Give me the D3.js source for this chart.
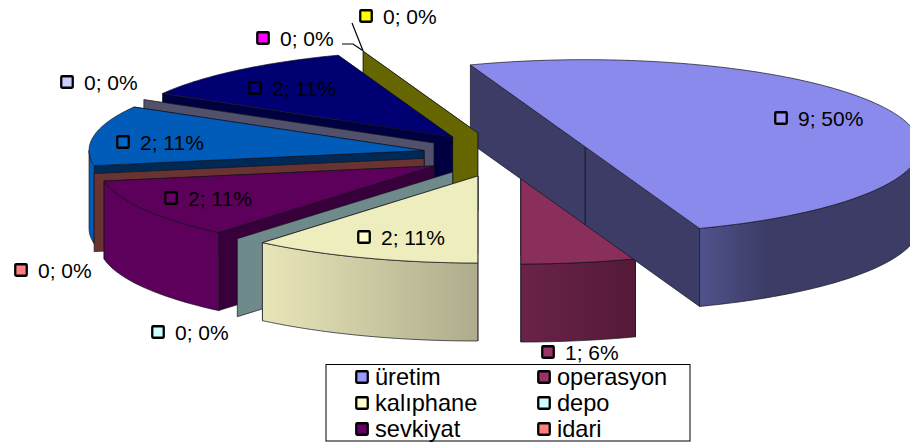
<!DOCTYPE html>
<html>
<head>
<meta charset="utf-8">
<script src="https://cdn.jsdelivr.net/npm/d3@7/dist/d3.min.js"></script>
<style>
html,body{margin:0;padding:0;background:#fff;overflow:hidden}
svg{display:block}
text{font-family:"Liberation Sans",Arial,sans-serif;fill:#000}
</style>
</head>
<body>
<svg id="chart" width="910" height="443"></svg>
<script>
// Data, in chart order
const seriesValues = [9, 1, 2, 0, 2, 0, 2, 0, 2, 0, 0];
const legendNames = ["üretim", "operasyon", "kalıphane", "depo", "sevkiyat", "idari"];
const markerColors = ["#9999ff", "#993366", "#ffffcc", "#ccffff", "#660066", "#ff8080", "#0066cc", "#ccccff", "#000080", "#ff00ff", "#ffff00"];
const topColors = ["#8a8aec", "#8a2e5c", "#ededbd", "#ccffff", "#5c005c", "#ff8080", "#005cb8", "#ccccff", "#000073", "#ff00ff", "#ffff00"];
const cutColors = ["#3c3c66", "#5a1c3c", "#6a6a50", "#6e8a8a", "#38003a", "#693332", "#002a55", "#51516b", "#000040", "#666600", "#666600"];
const rimLeft = ["#50528c", "#6a2347", "#e8e6b8", "#6e8a8a", "#5c005c", "#693332", "#005cb8", "#51516b", "#000073", "#666600", "#666600"];
const rimRight = ["#3c3c66", "#541a38", "#aeac8c", "#6e8a8a", "#5c005c", "#693332", "#005cb8", "#51516b", "#000073", "#666600", "#666600"];

// Layout
const drawOrder = [1, 0, 10, 9, 8, 7, 6, 5, 4, 3, 2];
const labelSpots = [[781,118],[548,352],[364,237],[158,332],[171,198],[21,270],[123,142],[67,82],[255,88],[263,38],[366,16]];
const legendRows = [377, 403, 429];
const legendCols = [362, 544];
const rad = d3.scaleLinear().domain([0, 360]).range([0, 2 * Math.PI]);
const startDeg = -20, depth = 78, explodeX = 0.2496, explodeY = 0.263;

const x = d3.scaleLinear().domain([-1, 1]).range([506.4 - 335, 506.4 + 335]);
const y = d3.scaleLinear().domain([-1, 1]).range([154.5 + 87, 154.5 - 87]);

const svg = d3.select("#chart");
const defs = svg.append("defs");
const pie = d3.pie().sort(null).startAngle(rad(startDeg)).endAngle(rad(startDeg + 360));
const arcs = pie(seriesValues).map((d, i) => {
  const mid = (d.startAngle + d.endAngle) / 2;
  return Object.assign(d, {i, ox: x(explodeX * Math.sin(mid)) - x(0), oy: y(explodeY * Math.cos(mid)) - y(0)});
});

const rimPoint = (d, a, dy = 0) => [x(Math.sin(a)) + d.ox, y(Math.cos(a)) + d.oy + dy];
const apex = (d, dy = 0) => [x(0) + d.ox, y(0) + d.oy + dy];
const poly = d3.line();
const sweep = (a0, a1) => {
  const n = Math.max(1, Math.ceil(Math.abs(a1 - a0) / rad(1)));
  return d3.range(n + 1).map(k => a0 + (a1 - a0) * k / n);
};
const edge = "#14141e";

function radialWall(g, d, a, fill) {
  g.append("path")
    .attr("d", poly([apex(d), rimPoint(d, a), rimPoint(d, a, depth), apex(d, depth)]) + "Z")
    .attr("fill", fill).attr("stroke", edge).attr("stroke-width", 0.7).attr("stroke-linejoin", "round");
}

drawOrder.map(i => arcs[i]).forEach(d => {
  const g = svg.append("g").attr("class", "slice");
  const c = cutColors[d.i];
  if (d.value === 0) { radialWall(g, d, d.startAngle, c); return; }
  radialWall(g, d, d.endAngle, c);
  radialWall(g, d, d.startAngle, c);
  // outer rim: only the part facing the viewer
  const a0 = Math.max(d.startAngle, rad(90)), a1 = Math.min(d.endAngle, rad(270));
  if (a1 > a0) {
    const id = "rim" + d.i, top = sweep(a0, a1).map(a => rimPoint(d, a));
    const bottom = sweep(a1, a0).map(a => rimPoint(d, a, depth));
    const xs = top.map(p => p[0]);
    const lg = defs.append("linearGradient").attr("id", id).attr("gradientUnits", "userSpaceOnUse")
      .attr("x1", d3.min(xs)).attr("x2", d3.max(xs)).attr("y1", 0).attr("y2", 0);
    lg.append("stop").attr("offset", 0).attr("stop-color", rimLeft[d.i]);
    lg.append("stop").attr("offset", d.i === 0 ? 0.3 : 1).attr("stop-color", rimRight[d.i]);
    g.append("path").attr("d", poly(top.concat(bottom)) + "Z")
      .attr("fill", `url(#${id})`).attr("stroke", edge).attr("stroke-width", 0.7).attr("stroke-linejoin", "round");
  }
  const topPts = [apex(d)].concat(sweep(d.startAngle, d.endAngle).map(a => rimPoint(d, a)));
  g.append("path").attr("d", poly(topPts) + "Z")
    .attr("fill", topColors[d.i]).attr("stroke", edge).attr("stroke-width", 0.7).attr("stroke-linejoin", "round");
});

// Leader lines for the two zero slices at the back
const tip = rimPoint(arcs[10], arcs[10].startAngle);
svg.append("path").attr("fill", "none").attr("stroke", "#000").attr("stroke-width", 1.2)
  .attr("d", poly([[352, 23], [tip[0], tip[1]]]));
svg.append("path").attr("fill", "none").attr("stroke", "#000").attr("stroke-width", 1.2)
  .attr("d", poly([[342, 44], [353, 44], [tip[0] - 1, tip[1] - 1]]));

function marker(parent, cx, cy, fill) {
  parent.append("rect").attr("x", cx - 5.75).attr("y", cy - 5.75).attr("width", 11.5).attr("height", 11.5)
    .attr("rx", 1).attr("fill", fill).attr("stroke", "#000").attr("stroke-width", 2.3);
}

// Data labels
const total = d3.sum(seriesValues);
arcs.forEach(d => {
  const [mx, my] = labelSpots[d.i];
  marker(svg, mx, my, markerColors[d.i]);
  svg.append("text").attr("x", mx + 17).attr("y", my + 7.5).attr("font-size", 21)
    .text(`${d.value}; ${Math.round(d.value / total * 100)}%`);
});

// Legend
svg.append("rect").attr("x", 326).attr("y", 364.5).attr("width", 364).attr("height", 76.5)
  .attr("fill", "#fff").attr("stroke", "#000").attr("stroke-width", 1);
legendNames.forEach((name, i) => {
  const cx = legendCols[i % 2], cy = legendRows[Math.floor(i / 2)];
  marker(svg, cx, cy, markerColors[i]);
  svg.append("text").attr("x", cx + 13).attr("y", cy + 8).attr("font-size", 23.6).text(name);
});
</script>
</body>
</html>
